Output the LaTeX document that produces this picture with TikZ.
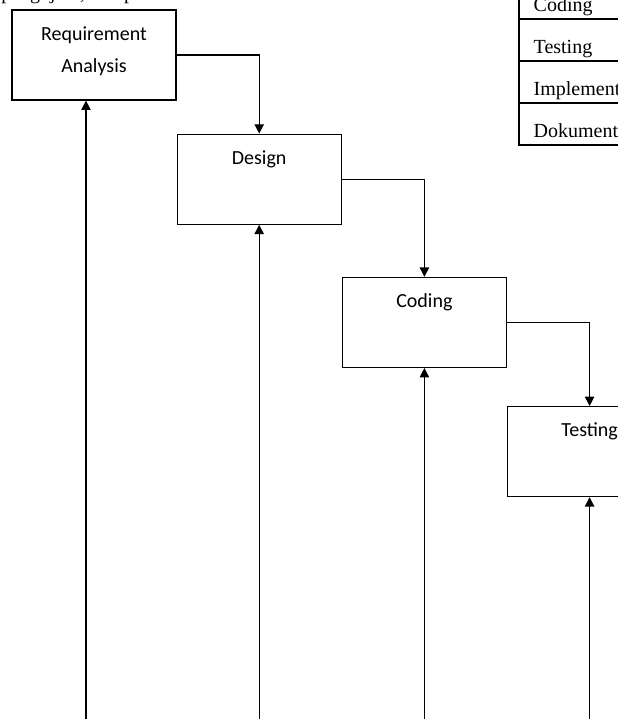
\documentclass[tikz,border=0pt]{standalone}
\usepackage{fontspec}
\setmainfont{Liberation Serif}
\newfontfamily\boxfont{Carlito}
\usetikzlibrary{positioning, arrows.meta, calc}

\begin{document}
\begin{tikzpicture}[
	x=0.75pt, y=-0.75pt,
	stage/.style={rectangle, draw, line width=0.9pt, minimum width=123pt, minimum height=67.5pt, inner ysep=0pt, text height=22.5pt, text depth=45pt, align=center, font=\boxfont\fontsize{15pt}{24pt}\selectfont},
	cell/.style={rectangle, draw, line width=1.5pt, outer sep=0pt, inner xsep=11pt, inner ysep=0pt, text width=130pt, text height=26pt, text depth=5.5pt, font=\fontsize{15pt}{18pt}\selectfont},
	flow/.style={-{Triangle[length=7pt, width=7pt]}, line width=0.9pt},
]
	\useasboundingbox (0,0) rectangle (618,719);

	% Running text above the figure (cut off)
	\node[anchor=base west, inner sep=0pt, font=\fontsize{15pt}{18pt}\selectfont] (intro) at (1,-0.5) {pengujian, dan pemeliharaan.};

	% Waterfall stages
	\node[stage, text height=46.5pt, text depth=21pt] (ra) at (94,55) {Requirement\\Analysis};
	\node[stage, below right=24.75pt and 0pt of ra] (design) {Design};
	\node[stage, below right=39pt and 0pt of design] (coding) {Coding};
	\node[stage, below right=28.5pt and 0pt of coding] (testing) {Testing};

	% Stage to stage
	\draw[flow] (ra.east) -| (design.north);
	\draw[flow] (design.east) -| (coding.north);
	\draw[flow] (coding.east) -| (testing.north);

	% Feedback lines from below
	\coordinate (ra-foot) at (86,725);
	\draw[flow] (ra-foot) -- (ra-foot |- ra.south);
	\foreach \s in {design, coding, testing} {
		\coordinate (\s-foot) at (\s.south |- ra-foot);
		\draw[flow] (\s-foot) -- (\s.south);
	}

	% Table at the top right
	\node[cell, anchor=north west] (tcoding) at (519,-23) {Coding};
	\node[cell, below=0pt of tcoding] (ttesting) {Testing};
	\node[cell, below=0pt of ttesting] (timpl) {Implementasi};
	\node[cell, below=0pt of timpl] (tdoc) {Dokumentasi};
\end{tikzpicture}
\end{document}
